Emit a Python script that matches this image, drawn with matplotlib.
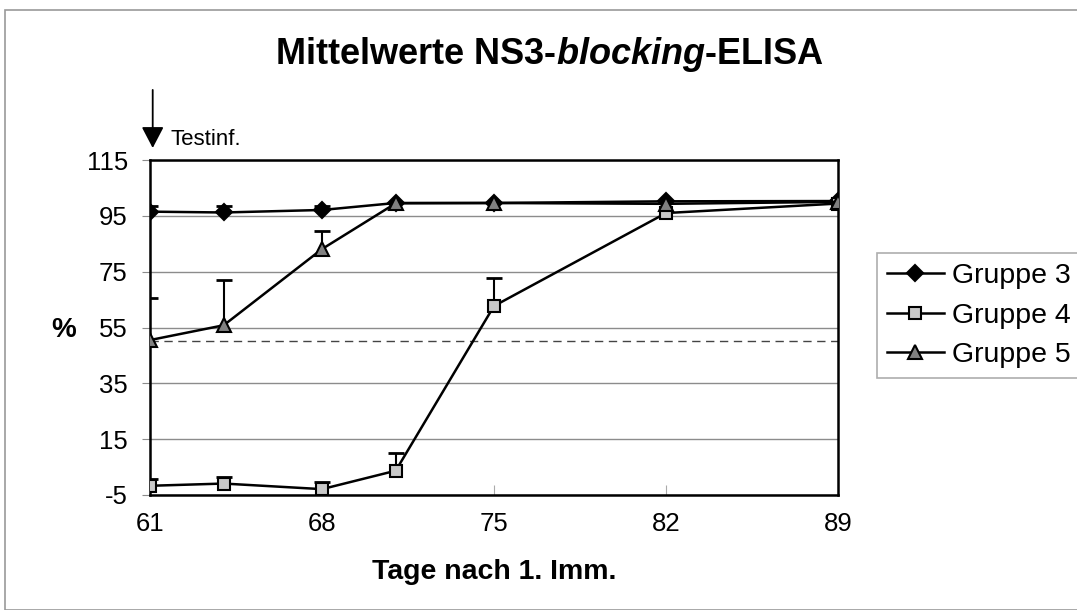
import matplotlib
matplotlib.use("Agg")
import matplotlib.pyplot as plt
from matplotlib.patches import Rectangle

plt.rcParams['font.family'] = ['Liberation Sans', 'DejaVu Sans']
plt.rcParams['axes.unicode_minus'] = False
plt.rcParams['mathtext.fontset'] = 'custom'
plt.rcParams['mathtext.it'] = 'Liberation Sans:bold:italic'
plt.rcParams['mathtext.rm'] = 'Liberation Sans:bold'

# Days after first immunisation
days = [61, 64, 68, 71, 75, 82, 89]

# Mean inhibition (%) per group
gruppe3 = [96.5, 96.2, 97.1, 99.6, 99.6, 100.2, 100.3]
gruppe4 = [-1.7, -0.9, -2.9, 3.7, 62.7, 96.0, 99.4]
gruppe5 = [50.5, 55.8, 83.1, 99.5, 99.6, 99.3, 100.0]

# Upper standard deviations
err3 = [2.1, 2.4, 1.6, 0.0, 0.0, 0.0, 0.0]
err4 = [2.6, 2.2, 2.4, 6.5, 10.0, 0.0, 0.0]
err5 = [15.0, 16.3, 6.5, 0.0, 0.0, 0.0, 0.0]

xticks = [61, 68, 75, 82, 89]
yticks = [-5, 15, 35, 55, 75, 95, 115]
cutoff = 50

fig = plt.figure(figsize=(10.77, 6.10), dpi=100)
fig.patches.append(Rectangle((5 / 1077, 0.0), 1.0, 1 - 10 / 610, transform=fig.transFigure,
                             fill=False, edgecolor='#9a9a9a', linewidth=1.2))

ax = fig.add_axes([150 / 1077, 1 - 495 / 610, (838 - 150) / 1077, (495 - 160) / 610])

ax.set_xlim(61, 89)
ax.set_ylim(-5, 115)
ax.set_xticks(xticks)
ax.set_yticks(yticks)
ax.grid(axis='y', color='#8c8c8c', linewidth=1.0)
ax.set_axisbelow(True)
ax.axhline(cutoff, color='#444444', linestyle=(0, (6, 4)), linewidth=1.0)

for s in ax.spines.values():
    s.set_linewidth(1.8)
    s.set_color('black')

ax.tick_params(axis='y', direction='out', length=6, color='#8c8c8c', labelsize=18.5, pad=10)
ax.tick_params(axis='x', direction='in', length=7, color='#aaaaaa', labelsize=18.5, pad=12)

series = [
    (gruppe3, err3, 'D', 'black', 8.5, 'Gruppe 3'),
    (gruppe4, err4, 's', '#c8c8c8', 9, 'Gruppe 4'),
    (gruppe5, err5, '^', '#808080', 10, 'Gruppe 5'),
]
handles = []
for vals, err, mk, fc, ms, lab in series:
    idx = [i for i, e in enumerate(err) if e > 0]
    xs = [days[i] for i in idx]
    ys = [vals[i] for i in idx]
    es = [err[i] for i in idx]
    _, caps, _ = ax.errorbar(xs, ys, yerr=[[0] * len(es), es], fmt='none', ecolor='black',
                             elinewidth=1.5, capsize=6, capthick=2, zorder=3)
    # keep only the upper cap
    caps[0].remove()
    h, = ax.plot(days, vals, color='black', linewidth=1.8, marker=mk, markersize=ms,
                 markerfacecolor=fc, markeredgecolor='black', markeredgewidth=1.5,
                 label=lab, zorder=4)
    handles.append(h)

leg = fig.legend(handles=handles, loc='upper left', bbox_to_anchor=(877 / 1077, 1 - 253 / 610),
                 fontsize=20.5, frameon=True, fancybox=False, edgecolor='#9a9a9a',
                 handlelength=2.0, handletextpad=0.3, borderpad=0.35, labelspacing=0.48,
                 borderaxespad=0)
leg.get_frame().set_linewidth(1.2)

fig.text(550 / 1077, 1 - 55 / 610, r'Mittelwerte NS3-$\it{blocking}$-ELISA',
         ha='center', va='center', fontsize=26, fontweight='bold')
fig.text(494 / 1077, 1 - 572 / 610, 'Tage nach 1. Imm.', ha='center', va='center',
         fontsize=20.5, fontweight='bold')
fig.text(64 / 1077, 1 - 330 / 610, '%', ha='center', va='center', fontsize=20, fontweight='bold')

# Arrow marking the challenge infection
ax.annotate('', xy=(61.11, 119.3), xytext=(61.11, 140.1), xycoords='data', textcoords='data',
            arrowprops=dict(arrowstyle='-|>,head_length=0.65,head_width=0.34', color='black',
                            lw=1.3, mutation_scale=20, shrinkA=0, shrinkB=0),
            annotation_clip=False)
ax.text(61.85, 122.5, 'Testinf.', fontsize=16, va='center', ha='left', clip_on=False)

fig.savefig('out.png', dpi=100)
